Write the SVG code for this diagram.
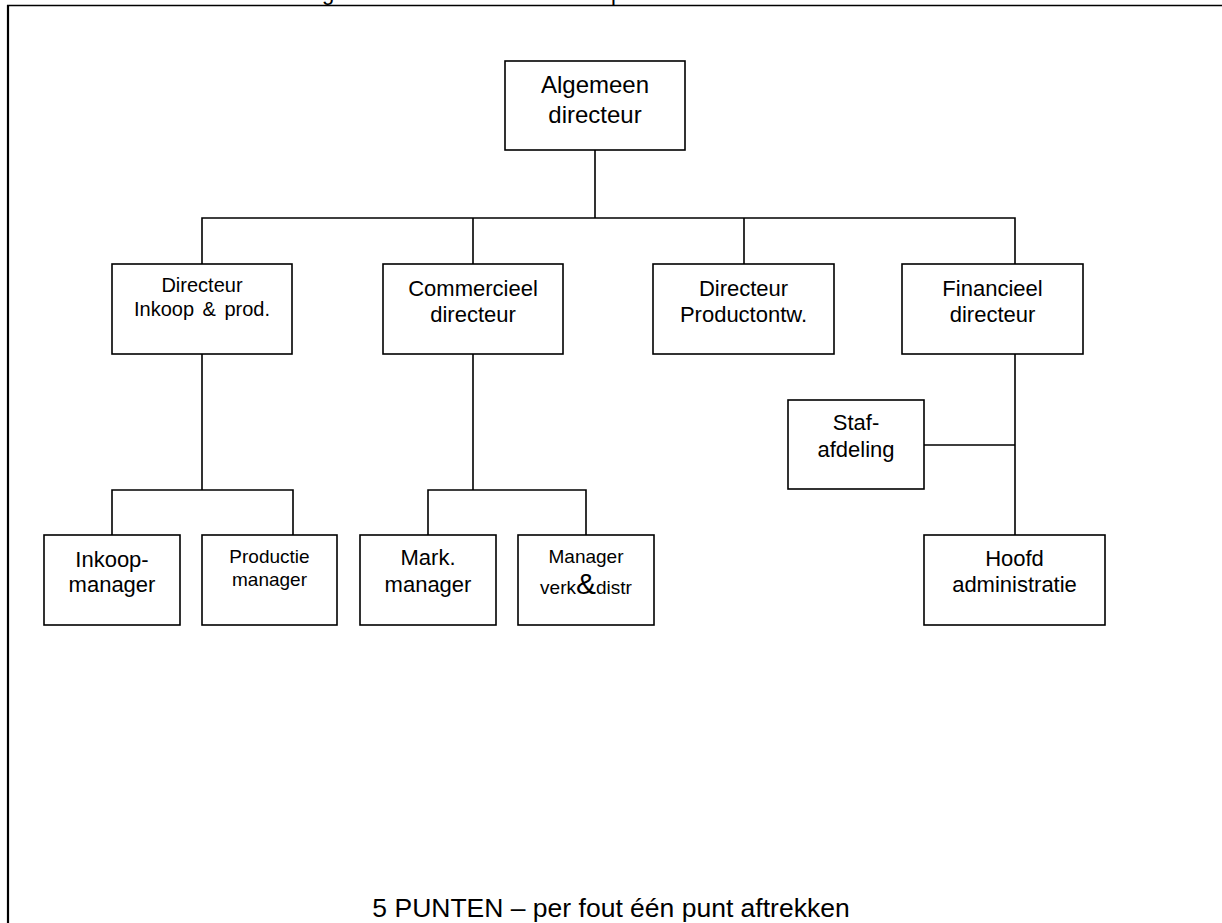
<svg xmlns="http://www.w3.org/2000/svg" width="1222" height="923" viewBox="0 0 1222 923">
<style>
.box{fill:#fff;stroke:#000;stroke-width:1.6}
.ln{fill:none;stroke:#000;stroke-width:1.6}
text{font-family:"Liberation Sans",Arial,sans-serif;fill:#000;text-anchor:middle}
.l{font-size:24px}
.m{font-size:22px}
.s{font-size:19px}
</style>
<rect width="1222" height="923" fill="#fff"/>
<g id="frame">
<line x1="7" y1="5.5" x2="1222" y2="5.5" stroke="#000" stroke-width="1.5"/>
<line x1="8" y1="5" x2="8" y2="923" stroke="#000" stroke-width="2.2"/>
<text x="328" y="0" class="m">g</text>
<text x="617" y="0" class="m">p</text>
</g>
<g id="connectors" class="ln">
<path d="M595 150V218M202 264V218H1015V264M473 218V264M744 218V264"/>
<path d="M202 354V490M112 535V490H293V535"/>
<path d="M473 354V490M428 535V490H586V535"/>
<path d="M1015 354V535M924 445H1015"/>
</g>
<g id="n-algemeen"><rect class="box" x="505" y="61" width="180" height="89"/><text class="l" x="595" y="93">Algemeen</text><text class="l" x="595" y="123">directeur</text></g>
<g id="n-inkoopprod"><rect class="box" x="112" y="264" width="180" height="90"/><text x="202" y="292" font-size="20px">Directeur</text><text x="202" y="316" font-size="20px" word-spacing="3">Inkoop &amp; prod.</text></g>
<g id="n-commercieel"><rect class="box" x="383" y="264" width="180" height="90"/><text class="m" x="473" y="296">Commercieel</text><text class="m" x="473" y="322">directeur</text></g>
<g id="n-productontw"><rect class="box" x="653" y="264" width="181" height="90"/><text class="m" x="743.5" y="296">Directeur</text><text class="m" x="743.5" y="322">Productontw.</text></g>
<g id="n-financieel"><rect class="box" x="902" y="264" width="181" height="90"/><text class="m" x="992.5" y="296">Financieel</text><text class="m" x="992.5" y="322">directeur</text></g>
<g id="n-staf"><rect class="box" x="788" y="400" width="136" height="89"/><text class="m" x="856" y="430">Staf-</text><text class="m" x="856" y="457">afdeling</text></g>
<g id="n-hoofd"><rect class="box" x="924" y="535" width="181" height="90"/><text class="m" x="1014.5" y="566">Hoofd</text><text class="m" x="1014.5" y="592">administratie</text></g>
<g id="n-inkoopmgr"><rect class="box" x="44" y="535" width="136" height="90"/><text class="m" x="112" y="567">Inkoop-</text><text class="m" x="112" y="592">manager</text></g>
<g id="n-productiemgr"><rect class="box" x="202" y="535" width="135" height="90"/><text class="s" x="269.5" y="563">Productie</text><text class="s" x="269.5" y="586">manager</text></g>
<g id="n-markmgr"><rect class="box" x="360" y="535" width="136" height="90"/><text class="m" x="428" y="565">Mark.</text><text class="m" x="428" y="592">manager</text></g>
<g id="n-verkdistr"><rect class="box" x="518" y="535" width="136" height="90"/><text class="s" x="586" y="563">Manager</text><text class="s" x="586" y="594">verk<tspan font-size="30px">&amp;</tspan>distr</text></g>
<text x="611" y="917" font-size="26.5px">5 PUNTEN – per fout één punt aftrekken</text>
</svg>
